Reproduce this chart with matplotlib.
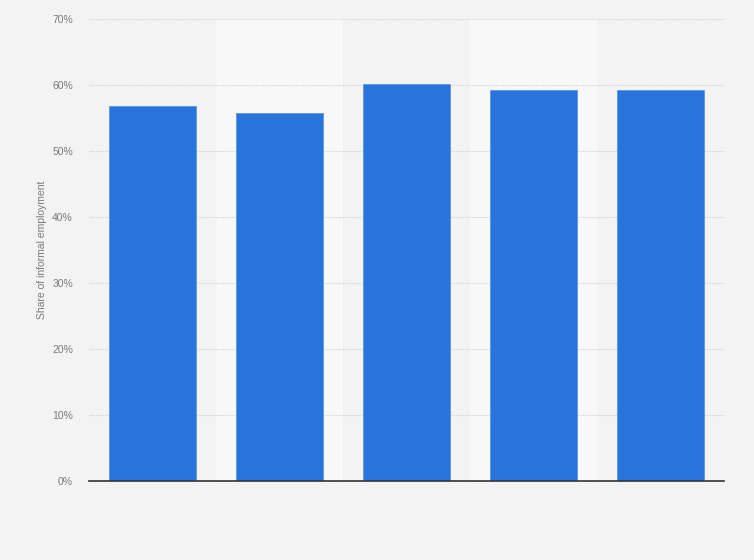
import matplotlib
matplotlib.use("Agg")
import matplotlib.pyplot as plt
import numpy as np

plt.rcParams["font.family"] = ["Liberation Sans", "DejaVu Sans"]

# data (no category labels are shown)
categories = ["", "", "", "", ""]
share_informal = [56.8, 55.7, 60.2, 59.3, 59.2]
yticks = [0, 10, 20, 30, 40, 50, 60, 70]
ytick_labels = ["0%", "10%", "20%", "30%", "40%", "50%", "60%", "70%"]

bg = "#f3f3f3"
band = "#f8f8f8"
bar_col = "#2775db"

fig = plt.figure(figsize=(7.54, 5.6), dpi=100, facecolor=bg)
ax = fig.add_axes([0.118, 0.141, 0.842, 0.825])
ax.set_facecolor(bg)

x = np.arange(len(categories))

# alternating light bands behind every second category
for i in x:
    if i % 2 == 1:
        ax.axvspan(i - 0.5, i + 0.5, color=band, zorder=0, lw=0)

ax.bar(x, share_informal, width=0.685, color=bar_col, edgecolor="#5b97e6",
       linewidth=0.6, zorder=3)

ax.set_xlim(-0.5, len(categories) - 0.5)
ax.set_ylim(0, 70)
ax.set_yticks(yticks)
ax.set_yticklabels(ytick_labels, fontsize=7.5, color="#7a7a7a")
ax.set_xticks(x)
ax.set_xticklabels(categories)
ax.tick_params(axis="y", length=0, pad=11.5)
ax.tick_params(axis="x", length=0)

ax.yaxis.grid(True, linestyle=(0, (1, 1)), color="#d2d2d2", linewidth=0.8, zorder=1)
ax.set_axisbelow(True)

for s in ["top", "right", "left"]:
    ax.spines[s].set_visible(False)
ax.spines["bottom"].set_color("#333333")
ax.spines["bottom"].set_linewidth(1.2)
ax.spines["bottom"].set_zorder(4)

ax.set_ylabel("Share of informal employment", fontsize=7.5, color="#7a7a7a")
ax.yaxis.set_label_coords(-0.066, 0.5)

fig.savefig("out.png", dpi=100, facecolor=bg)
